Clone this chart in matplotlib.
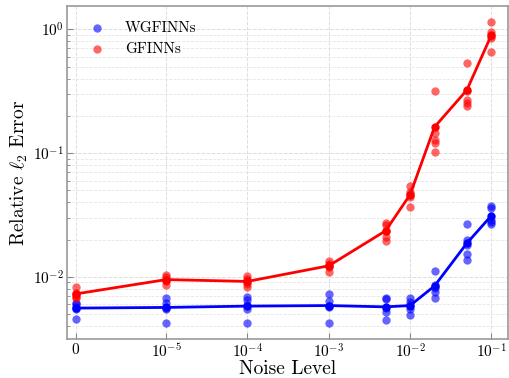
import matplotlib
matplotlib.use('Agg')
import matplotlib.pyplot as plt
import numpy as np

plt.rcParams['font.family'] = 'serif'
plt.rcParams['font.serif'] = ['cmr10', 'DejaVu Serif']
plt.rcParams['mathtext.fontset'] = 'cm'
plt.rcParams['axes.formatter.use_mathtext'] = True

# noise levels and the per-run relative l2 errors
noise = [0, 1e-5, 1e-4, 1e-3, 5e-3, 1e-2, 2e-2, 5e-2, 1e-1]
xtick_vals = [0, 1e-5, 1e-4, 1e-3, 1e-2, 1e-1]
xtick_labels = ['$0$', '$10^{-5}$', '$10^{-4}$', '$10^{-3}$', '$10^{-2}$', '$10^{-1}$']

wgfinns = [
    [0.0062, 0.0060, 0.0057, 0.0055, 0.00455],
    [0.0068, 0.0062, 0.0056, 0.0055, 0.0042],
    [0.0069, 0.0065, 0.0059, 0.0055, 0.0042],
    [0.0072, 0.0064, 0.0058, 0.0057, 0.0042],
    [0.0067, 0.0066, 0.0056, 0.0052, 0.0045],
    [0.0067, 0.0063, 0.0059, 0.0055, 0.0049],
    [0.0112, 0.0086, 0.0081, 0.0075, 0.0068],
    [0.0265, 0.0200, 0.0180, 0.0152, 0.0138],
    [0.0373, 0.0357, 0.0287, 0.0275, 0.0268],
]
gfinns = [
    [0.0083, 0.0074, 0.0071, 0.0069, 0.0067],
    [0.0103, 0.0099, 0.0095, 0.0092, 0.0086],
    [0.0102, 0.0096, 0.0091, 0.0087, 0.0083],
    [0.0133, 0.0128, 0.0124, 0.0120, 0.0109],
    [0.0273, 0.0263, 0.0235, 0.0211, 0.0195],
    [0.0541, 0.0486, 0.0466, 0.0443, 0.0368],
    [0.319, 0.144, 0.127, 0.120, 0.102],
    [0.537, 0.318, 0.268, 0.252, 0.240],
    [1.15, 0.95, 0.89, 0.85, 0.65],
]

fig, ax = plt.subplots(figsize=(5.1, 3.78), dpi=100)
fig.subplots_adjust(left=0.131, right=0.996, top=0.984, bottom=0.102)

for runs, color, label in [(wgfinns, 'blue', 'WGFINNs'), (gfinns, 'red', 'GFINNs')]:
    xs = np.repeat(noise, [len(r) for r in runs])
    ys = np.concatenate(runs)
    ax.scatter(xs, ys, s=36, color=color, alpha=0.6, linewidths=0, label=label, zorder=3)
    means = [np.mean(r) for r in runs]
    ax.plot(noise, means, color=color, linewidth=2, marker='o', markersize=5, zorder=4)

ax.set_xscale('symlog', linthresh=1e-5, linscale=1)
ax.set_yscale('log')
ax.set_xlim(-1e-6, 0.16)
ax.set_ylim(0.00312, 1.54)
ax.set_xticks(xtick_vals)
ax.set_xticklabels(xtick_labels)
ax.xaxis.set_minor_locator(plt.NullLocator())

ax.set_xlabel('Noise Level', fontsize=14, labelpad=0)
ax.set_ylabel(r'Relative $\ell_2$ Error', fontsize=14, labelpad=2)
ax.tick_params(axis='both', which='major', labelsize=11, direction='in', color='#888888', length=4, pad=2)
ax.tick_params(axis='y', which='minor', direction='in', color='#888888', length=2)

ax.grid(True, which='major', color='#dddddd', linestyle='--', linewidth=0.7)
ax.grid(True, which='minor', axis='y', color='#e6e6e6', linestyle='--', linewidth=0.6)
ax.set_axisbelow(True)
for s in ax.spines.values():
    s.set_color('#999999')
    s.set_linewidth(1.2)

ax.legend(loc='upper left', frameon=False, fontsize=11, handletextpad=0.8,
          borderaxespad=0.6, labelspacing=0.5)

fig.savefig('out.png', dpi=100)
